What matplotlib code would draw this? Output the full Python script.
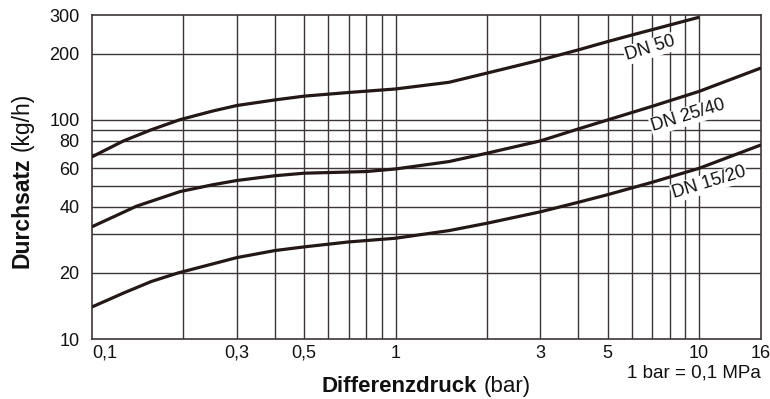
import matplotlib
matplotlib.use("Agg")
import matplotlib.pyplot as plt
from matplotlib.ticker import FixedLocator, FixedFormatter, NullLocator

plt.rcParams['font.family'] = ['Liberation Sans', 'DejaVu Sans']

# Data
x_dn50 = [0.1, 0.127, 0.157, 0.195, 0.25, 0.3, 0.4, 0.5, 0.7, 1, 1.5, 2, 3, 4, 5, 6, 8, 10]
y_dn50 = [67.7, 80, 90, 100, 109.5, 116, 123, 128, 133, 138, 148, 163, 187, 208, 227, 243, 270, 293]

x_dn25 = [0.1, 0.12, 0.14, 0.195, 0.25, 0.3, 0.4, 0.5, 0.8, 1, 1.5, 2, 3, 4, 5, 7, 10, 16]
y_dn25 = [32.5, 36.5, 40.3, 47, 50.5, 52.8, 55.5, 57, 58, 59.6, 64.4, 70.3, 80, 90.7, 99.7, 115, 134.5, 172]

x_dn15 = [0.1, 0.127, 0.157, 0.192, 0.25, 0.3, 0.4, 0.5, 0.7, 1, 1.5, 2, 3, 4, 5, 7, 10, 16]
y_dn15 = [14.0, 16.2, 18.3, 20, 22, 23.5, 25.3, 26.3, 27.7, 28.8, 31.2, 33.7, 38, 42, 45.5, 51.8, 60, 76.7]

series_labels = ["DN 50", "DN 25/40", "DN 15/20"]

x_ticks = [0.1, 0.3, 0.5, 1, 3, 5, 10, 16]
x_ticklabels = ["0,1", "0,3", "0,5", "1", "3", "5", "10", "16"]
y_ticks = [10, 20, 40, 60, 80, 100, 200, 300]
y_ticklabels = ["10", "20", "40", "60", "80", "100", "200", "300"]

x_grid = [0.2, 0.3, 0.4, 0.5, 0.6, 0.7, 0.8, 0.9, 1, 2, 3, 4, 5, 6, 7, 8, 9, 10]
y_grid = [20, 30, 40, 50, 60, 70, 80, 90, 100, 200]

line_col = '#231815'
grid_col = '#3d3536'
text_col = '#111111'

W, H = 770, 399
fig = plt.figure(figsize=(W / 100, H / 100), dpi=100)
ax = fig.add_axes([92/W, 60/H, (761-92)/W, (339-15)/H])
ax.set_xscale('log')
ax.set_yscale('log')
ax.set_xlim(0.1, 16)
ax.set_ylim(10, 300)

for gx in x_grid:
    ax.axvline(gx, color=grid_col, lw=1.0, zorder=1)
for gy in y_grid:
    ax.axhline(gy, color=grid_col, lw=1.0, zorder=1)

for xs, ys in [(x_dn50, y_dn50), (x_dn25, y_dn25), (x_dn15, y_dn15)]:
    ax.plot(xs, ys, color=line_col, lw=2.3, zorder=3, solid_capstyle='butt',
            solid_joinstyle='round')

label_pos = [(6.9, 211), (9.2, 104), (10.8, 51.5)]
for (lx, ly), txt in zip(label_pos, series_labels):
    ax.text(lx, ly, txt, rotation=17, ha='center', va='center', fontsize=13,
            color=text_col, zorder=4,
            bbox=dict(facecolor='white', edgecolor='none', pad=0.8))

ax.xaxis.set_major_locator(FixedLocator(x_ticks))
ax.xaxis.set_major_formatter(FixedFormatter(x_ticklabels))
ax.xaxis.set_minor_locator(NullLocator())
ax.yaxis.set_major_locator(FixedLocator(y_ticks))
ax.yaxis.set_major_formatter(FixedFormatter(y_ticklabels))
ax.yaxis.set_minor_locator(NullLocator())
ax.tick_params(axis='both', which='both', length=0, labelsize=13, colors=text_col)
ax.tick_params(axis='x', pad=4)
ax.tick_params(axis='y', pad=9)
for lbl in ax.get_xticklabels():
    if lbl.get_text() == "0,1":
        lbl.set_horizontalalignment('left')

for sp in ax.spines.values():
    sp.set_color(grid_col)
    sp.set_linewidth(1.2)

# Mixed bold/regular axis titles, built from two adjacent texts
renderer = fig.canvas.get_renderer()


def fx(px):
    return px / W


def fy(py):
    return 1 - py / H


def two_part(bold, regular, size, center_px, baseline_px, vertical):
    rot = 90 if vertical else 0
    kw = dict(fontsize=size, color=text_col, rotation=rot,
              rotation_mode='anchor', ha='left', va='baseline')
    t1 = fig.text(0, 0, bold, fontweight='bold', **kw)
    t2 = fig.text(0, 0, regular, **kw)
    e1 = t1.get_window_extent(renderer)
    e2 = t2.get_window_extent(renderer)
    space = 0.278 * size * 100 / 72
    if vertical:
        l1, l2 = e1.height, e2.height
        total = l1 + space + l2
        start = center_px + total / 2  # bottom (top-down px)
        t1.set_position((fx(baseline_px), fy(start)))
        t2.set_position((fx(baseline_px), fy(start - l1 - space)))
    else:
        l1, l2 = e1.width, e2.width
        total = l1 + space + l2
        start = center_px - total / 2
        t1.set_position((fx(start), fy(baseline_px)))
        t2.set_position((fx(start + l1 + space), fy(baseline_px)))


two_part("Durchsatz", "(kg/h)", 16.5, 180, 29, vertical=True)
two_part("Differenzdruck", "(bar)", 16, 426, 392, vertical=False)

fig.text(fx(761), fy(377), "1 bar = 0,1 MPa", ha='right', va='baseline',
         fontsize=13.5, color=text_col)

fig.savefig("out.png", dpi=100, facecolor='white')
